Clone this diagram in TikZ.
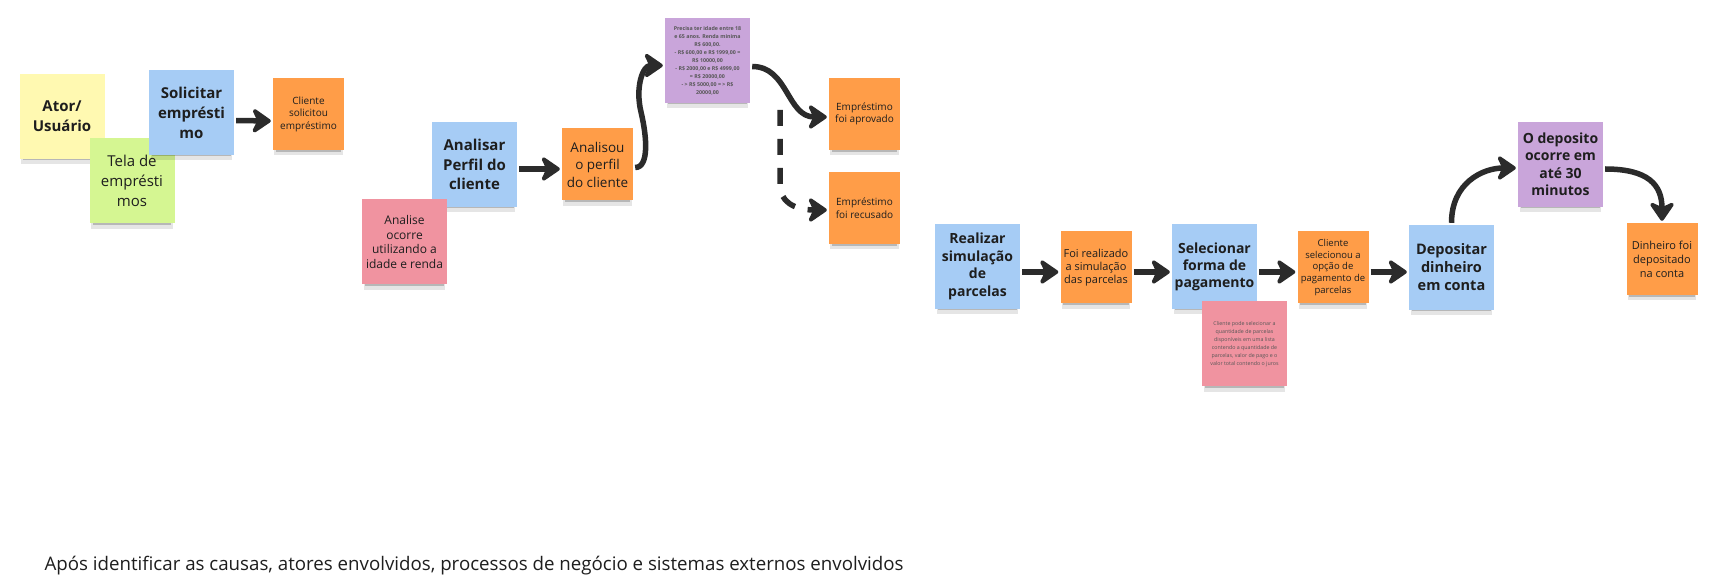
\documentclass[tikz,border=0pt]{standalone}
\usepackage{fontspec}
\setmainfont{Open Sans}
\usetikzlibrary{arrows.meta,shadows}
\definecolor{yelCol}{RGB}{255,249,177}
\definecolor{grnCol}{RGB}{213,246,146}
\definecolor{bluCol}{RGB}{166,204,245}
\definecolor{orgCol}{RGB}{255,157,72}
\definecolor{pnkCol}{RGB}{240,147,160}
\definecolor{purCol}{RGB}{201,165,218}
\definecolor{inkCol}{RGB}{30,30,30}
\definecolor{arrCol}{RGB}{43,43,43}
\tikzset{
  note/.style={rectangle,inner sep=0pt,align=center,text=inkCol,
               general shadow={fill=black,opacity=.10,shadow scale=.96,shadow yshift=-7pt},
               general shadow={fill=black,opacity=.20,shadow scale=.92,shadow yshift=-5pt}},
  big/.style={note,minimum width=85pt,minimum height=85pt},
  small/.style={note,minimum width=71pt,minimum height=72pt},
  yel/.style={big,fill=yelCol},
  grn/.style={big,fill=grnCol},
  blu/.style={big,fill=bluCol},
  pnk/.style={big,fill=pnkCol},
  pur/.style={big,fill=purCol},
  org/.style={small,fill=orgCol},
  hd/.style={font=\bfseries\fontsize{15}{20}\selectfont},
  hdsm/.style={font=\bfseries\fontsize{14}{17.5}\selectfont},
  tx/.style={font=\fontsize{15}{20}\selectfont},
  txsm/.style={font=\fontsize{10}{12.5}\selectfont},
  tiny/.style={font=\fontsize{5.3}{8}\selectfont,text=inkCol!75},
  flow/.style={-{Stealth[round,length=22pt,width=30pt,inset=7pt]},line width=5.5pt,
               draw=arrCol,shorten >=2pt,shorten <=2pt},
  dashflow/.style={flow,dash pattern=on 16pt off 13pt},
}

\begin{document}
\begin{tikzpicture}[x=1pt,y=-1pt]
      \fill[white] (0,0) rectangle (1709,585);
      \useasboundingbox (0,0) rectangle (1709,585);
      % cadastro do pedido
      \node[yel,hd] (act) at (62,116.5) {Ator/\\Usuário};
      \node[grn,tx] (tel) at (132,181) {Tela de\\empr\'esti\\mos};
      \node[blu,hd] (sol) at (191.5,112.5) {Solicitar\\empr\'esti\\mo};
      \node[org,txsm] (cso) at (308.5,114) {Cliente\\solicitou\\empréstimo};
      % analise do perfil
      \node[blu,hd,font=\bfseries\fontsize{15}{19.5}\selectfont] (ana) at (474.5,164.5) {Analisar\\Perfil do\\cliente};
      \node[pnk,font=\fontsize{12}{14.5}\selectfont] (anr) at (404.5,242) {Analise\\ocorre\\utilizando a\\idade e renda};
      \node[org,font=\fontsize{13.5}{17.5}\selectfont] (anl) at (597.5,164.5) {Analisou\\o perfil\\do cliente};
      \node[pur,tiny,font=\bfseries\fontsize{5.3}{8}\selectfont] (rgr) at (707.5,60.5)
        {Precisa ter idade entre 18\\e 65 anos. Renda minima\\R\$ 600,00.\\- R\$ 600,00 e R\$ 1999,00 =\\R\$ 10000,00\\- R\$ 2000,00 e R\$ 4999,00\\= R\$ 20000,00\\- > R\$ 5000,00 = > R\$\\20000,00};
      \node[org,txsm] (apr) at (864.5,114) {Empréstimo\\foi aprovado};
      \node[org,txsm] (rec) at (864.5,208) {Empréstimo\\foi recusado};
      % simulacao e pagamento
      \node[blu,hdsm] (rea) at (977.5,266.5) {Realizar\\simulação\\de\\parcelas};
      \node[org,font=\fontsize{11}{13}\selectfont] (frs) at (1096,267.5) {Foi realizado\\a simulação\\das parcelas};
      \node[blu,hdsm,font=\bfseries\fontsize{14}{17}\selectfont] (sel) at (1214.5,266.5) {Selecionar\\forma de\\pagamento};
      \node[pnk,tiny] (slr) at (1244.5,344)
        {Cliente pode selecionar a\\quantidade de parcelas\\disponíveis em uma lista\\contendo a quantidade de\\parcelas, valor de pago e o\\valor total contendo o juros};
      \node[org,font=\fontsize{9.5}{11.7}\selectfont] (csl) at (1333,267.5) {Cliente\\selecionou a\\opção de\\pagamento de\\parcelas};
      % deposito
      \node[blu,hdsm,font=\bfseries\fontsize{14.5}{18}\selectfont] (dep) at (1451.5,267.5) {Depositar\\dinheiro\\em conta};
      \node[pur,hdsm] (odp) at (1560.5,164.5) {O deposito\\ocorre em\\até 30\\minutos};
      \node[org,font=\fontsize{11}{14}\selectfont] (din) at (1662,259) {Dinheiro foi\\depositado\\na conta};
      \node[anchor=base west,font=\fontsize{18.7}{22}\selectfont,text=inkCol] (cap) at (41,570)
        {Após identificar as causas, atores envolvidos, processos de negócio e sistemas externos envolvidos};
      % conectores
      \draw[flow] ([yshift=-8pt]sol.east) -- ([yshift=-7pt]cso.west);
      \draw[flow] ([yshift=-4.5pt]ana.east) -- ([yshift=-4.5pt]anl.west);
      \draw[flow] ([yshift=-3pt]anl.east) .. controls +(16,0) and +(6,25) .. (641,112)
                  .. controls +(-6,-25) and +(-22,0) .. ([yshift=-5pt]rgr.west);
      \draw[flow] ([yshift=-6pt]rgr.east) .. controls +(38,0) and +(-42,0) .. ([yshift=-3pt]apr.west);
      \coordinate (dst) at (780,108);
      \draw[dashflow] (dst) -- (780,185) .. controls (780,200) and (792,210) .. ([yshift=-2pt]rec.west);
      \draw[flow] ([yshift=-5.5pt]rea.east) -- ([yshift=-4.5pt]frs.west);
      \draw[flow] ([yshift=-4.5pt]frs.east) -- ([yshift=-5.5pt]sel.west);
      \draw[flow] ([yshift=-5.5pt]sel.east) -- ([yshift=-4.5pt]csl.west);
      \draw[flow] ([yshift=-4.5pt]csl.east) -- ([yshift=-4.5pt]dep.west);
      \draw[flow] (dep.north) .. controls +(0,-42) and +(-35,0) .. ([yshift=-3.5pt]odp.west);
      \draw[flow] ([yshift=-4.5pt]odp.east) .. controls +(45,0) and +(0,-38) .. (din.north);
    \end{tikzpicture}
\end{document}
